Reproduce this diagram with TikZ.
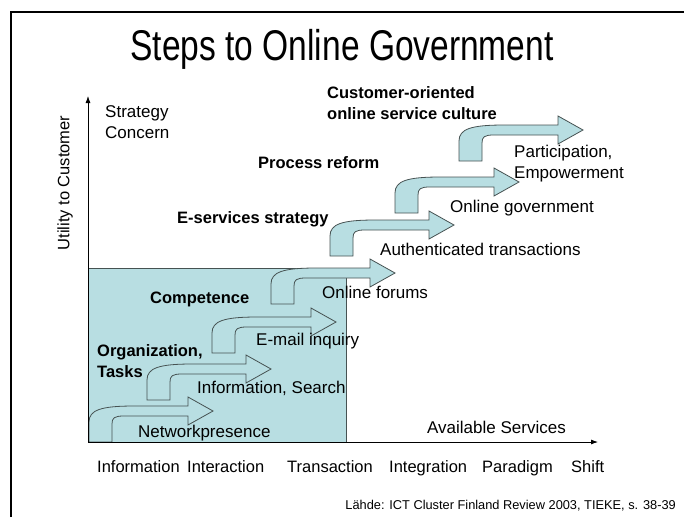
\documentclass[tikz,border=0pt]{standalone}
\usepackage{fontspec}
\setmainfont{Liberation Sans}
\usepackage{tikz}
\usetikzlibrary{arrows.meta, positioning, calc}
\definecolor{paleteal}{RGB}{184,222,226}
\definecolor{edgegray}{RGB}{70,82,82}

\tikzset{
  lbl/.style={inner sep=0pt, anchor=base west, font=\fontsize{17}{20.5}\selectfont},
  boldlbl/.style={lbl, font=\fontsize{16.5}{20.5}\selectfont\bfseries},
  axisarrow/.style={-{Latex[length=7pt,width=5pt]}, line width=0.8pt},
  steparrow/.pic={
    \draw[fill=paleteal, draw=edgegray, line width=0.8pt]
      (0,0) -- (0,-20) .. controls (0,-32) and (12,-36) .. (45,-36)
      -- (99,-36) -- (99,-45) -- (124,-31) -- (99,-17) -- (99,-26)
      -- (35,-26) .. controls (25,-26) and (23,-24) .. (23,-18)
      -- (23,0) -- cycle;
  }
}

\begin{document}
\begin{tikzpicture}[x=1pt, y=-1pt]
  \useasboundingbox (0,0) rectangle (684,517);
  % slide frame
  \draw[line width=2pt] (11,517) -- (11,12) -- (684,12);
  \node[inner sep=0pt, anchor=base, font=\fontsize{43}{50}\selectfont] (title) at (342,60) {\scalebox{0.78}[1]{Steps to Online Government}};

  \draw[fill=paleteal, draw=edgegray, line width=0.8pt] (88,268) rectangle (346,442);

  \foreach \x/\y in {89/442, 147/400, 212/353, 271/304, 330/256, 395/213, 459/161} {
    \pic at (\x,\y) {steparrow};
  }

  \coordinate (origin) at (88,442);
  \coordinate (ytip) at (88,96);
  \coordinate (xtip) at (598,442);
  \draw[axisarrow] (origin) -- (ytip);
  \draw[axisarrow] (origin) -- (xtip);

  \node[inner sep=0pt, rotate=90, font=\fontsize{16.5}{20}\selectfont] (utility) at (65,183) {Utility to Customer};
  % two-line labels sit on their last baseline
  \node[lbl, align=left] (strategy) at (105,138) {Strategy\\Concern};
  \node[lbl] (available) at (427,433) {Available Services};

  \node[boldlbl, align=left] (culture) at (327,119) {Customer-oriented\\online service culture};
  \node[boldlbl] (reform) at (258,168) {Process reform};
  \node[boldlbl] (eservices) at (177,223) {E-services strategy};
  \node[boldlbl] (competence) at (150,303) {Competence};
  \node[boldlbl, align=left] (organization) at (97,377) {Organization,\\Tasks};

  \node[lbl, align=left] (participation) at (514,178) {Participation,\\Empowerment};
  \node[lbl] (government) at (450,212) {Online government};
  \node[lbl] (authenticated) at (380,255) {Authenticated transactions};
  \node[lbl] (forums) at (322,298) {Online forums};
  \node[lbl] (email) at (256,345) {E-mail inquiry};
  \node[lbl] (search) at (197,393) {Information, Search};
  \node[lbl] (presence) at (138,437) {Networkpresence};

  \foreach \w/\x [count=\i] in {Information/97, Interaction/187, Transaction/287, Integration/389, Paradigm/482, Shift/571} {
    \node[lbl, font=\fontsize{16.5}{20}\selectfont] (stage\i) at (\x,472) {\w};
  }

  \node[inner sep=0pt, anchor=base east, font=\fontsize{12.8}{15}\selectfont] (source) at (676,509) {Lähde: ICT Cluster Finland Review 2003, TIEKE, s. 38-39};
\end{tikzpicture}
\end{document}
